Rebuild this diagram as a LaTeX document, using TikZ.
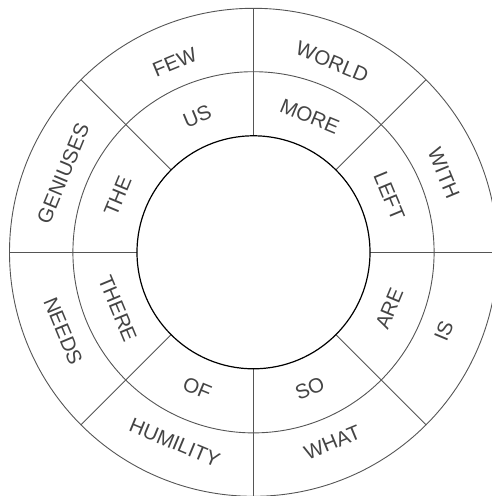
\documentclass[tikz,border=0pt]{standalone}
\usepackage{fontspec}
\setmainfont{Liberation Sans}
\usetikzlibrary{calc}
\definecolor{linegray}{HTML}{555555}
\definecolor{txtgray}{HTML}{444444}
\begin{document}
\begin{tikzpicture}[x=1pt,y=1pt,
  ringline/.style={draw=linegray,line width=0.9pt},
  innerline/.style={draw=black,line width=1.2pt},
  word/.style={text=txtgray,font=\fontsize{20.5}{22}\selectfont,inner sep=0pt}]
\useasboundingbox (0,0) rectangle (492,496);
\clip (0,0) rectangle (492,496);
\coordinate (c) at (253.5,243.7);
\def\rin{116.5}
\def\rmid{180.6}
\def\rout{244}
\foreach \a in {0,45,...,315}{
  \draw[ringline] ($(c)+(\a:\rin)$) -- ($(c)+(\a:\rout)$);
}
\draw[ringline] (c) circle[radius=\rout];
\draw[ringline] (c) circle[radius=\rmid];
\draw[innerline,fill=white] (c) circle[radius=\rin];
% outer ring words
\node[word,rotate=-22.5] (w1) at ($(c)+(67.5:206)$) {WORLD};
\node[word,rotate=-67.5] (w2) at ($(c)+(22.5:206)$) {WITH};
\node[word,rotate=67.5] (w3) at ($(c)+(-22.5:206)$) {IS};
\node[word,rotate=22.5] (w4) at ($(c)+(-67.5:206)$) {WHAT};
\node[word,rotate=-22.5] (w5) at ($(c)+(-112.5:206)$) {HUMILITY};
\node[word,rotate=-67.5] (w6) at ($(c)+(-157.5:206)$) {NEEDS};
\node[word,rotate=67.5] (w7) at ($(c)+(157.5:206)$) {GENIUSES};
\node[word,rotate=22.5] (w8) at ($(c)+(112.5:206)$) {FEW};
% inner ring words
\node[word,rotate=-22.5] (i1) at ($(c)+(67.5:147)$) {MORE};
\node[word,rotate=-67.5] (i2) at ($(c)+(22.5:147)$) {LEFT};
\node[word,rotate=67.5] (i3) at ($(c)+(-22.5:147)$) {ARE};
\node[word,rotate=22.5] (i4) at ($(c)+(-67.5:147)$) {SO};
\node[word,rotate=-22.5] (i5) at ($(c)+(-112.5:147)$) {OF};
\node[word,rotate=-67.5] (i6) at ($(c)+(-157.5:147)$) {THERE};
\node[word,rotate=67.5] (i7) at ($(c)+(157.5:147)$) {THE};
\node[word,rotate=22.5] (i8) at ($(c)+(112.5:147)$) {US};
\end{tikzpicture}
\end{document}
